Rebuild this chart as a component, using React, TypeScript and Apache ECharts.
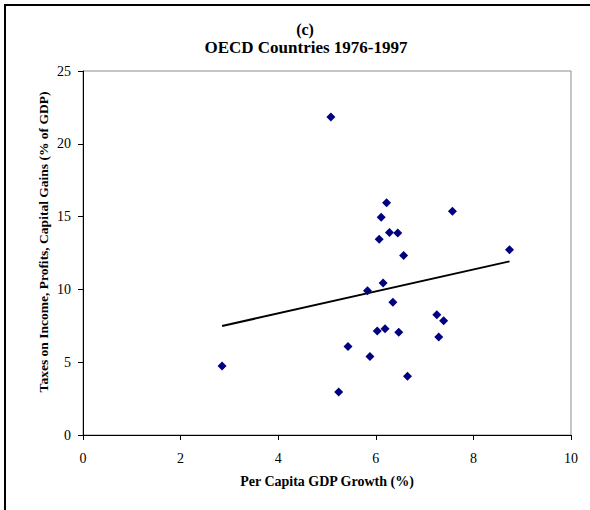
import React, { useEffect, useRef } from "react";
import * as echarts from "echarts";

const growth: number[] = [
  5.08, 6.22, 7.57, 6.11, 6.28, 6.45, 6.07, 8.74, 6.57, 6.15, 5.83, 6.35,
  7.25, 7.39, 6.03, 6.19, 6.47, 7.29, 5.43, 5.88, 6.65, 5.24, 2.85,
];
const taxes: number[] = [
  21.84, 15.95, 15.36, 14.95, 13.9, 13.87, 13.44, 12.73, 12.32, 10.44, 9.91,
  9.11, 8.26, 7.85, 7.14, 7.3, 7.05, 6.73, 6.07, 5.4, 4.03, 2.95, 4.74,
];
const xTicks = { min: 0, max: 10, interval: 2 };
const yTicks = { min: 0, max: 25, interval: 5 };
const titleLines = ["(c)", "OECD Countries 1976-1997"];
const xTitle = "Per Capita GDP Growth (%)";
const yTitle = "Taxes on Income, Profits, Capital Gains (% of GDP)";

function linearFit(xs: number[], ys: number[]) {
  const n = xs.length;
  const mx = xs.reduce((a, b) => a + b, 0) / n;
  const my = ys.reduce((a, b) => a + b, 0) / n;
  let sxy = 0;
  let sxx = 0;
  for (let i = 0; i < n; i++) {
    sxy += (xs[i] - mx) * (ys[i] - my);
    sxx += (xs[i] - mx) * (xs[i] - mx);
  }
  const slope = sxy / sxx;
  return { slope, intercept: my - slope * mx };
}

const SERIF = "'Liberation Serif', 'Times New Roman', serif";

export default function App() {
  const ref = useRef<HTMLDivElement>(null);
  useEffect(() => {
    if (!ref.current) return;
    const chart = echarts.init(ref.current, undefined, { renderer: "svg" });
    const fit = linearFit(growth, taxes);
    const x0 = Math.min(...growth);
    const x1 = Math.max(...growth);
    const trend = [
      [x0, fit.intercept + fit.slope * x0],
      [x1, fit.intercept + fit.slope * x1],
    ];
    const axisLabel = { color: "#000", fontFamily: SERIF, fontSize: 14 };
    chart.setOption({
      animation: false,
      backgroundColor: "#fff",
      grid: {
        left: 83,
        right: 19,
        top: 71,
        bottom: 75,
        show: true,
        borderColor: "#8c8c8c",
        borderWidth: 1,
        backgroundColor: "transparent",
      },
      xAxis: {
        type: "value",
        ...xTicks,
        axisLine: { show: true, onZero: false, lineStyle: { color: "#000", width: 1 } },
        axisTick: { show: true, inside: false, length: 5, lineStyle: { color: "#000" } },
        splitLine: { show: false },
        axisLabel: { ...axisLabel, margin: 16 },
      },
      yAxis: {
        type: "value",
        ...yTicks,
        axisLine: { show: true, onZero: false, lineStyle: { color: "#000", width: 1 } },
        axisTick: { show: true, inside: false, length: 5, lineStyle: { color: "#000" } },
        splitLine: { show: false },
        axisLabel: { ...axisLabel, margin: 12 },
      },
      series: [
        {
          type: "line",
          data: trend,
          symbol: "none",
          lineStyle: { color: "#000", width: 2 },
          silent: true,
          z: 1,
        },
        {
          type: "scatter",
          data: growth.map((g, i) => [g, taxes[i]]),
          symbol: "diamond",
          symbolSize: 9,
          itemStyle: { color: "#000080", opacity: 1 },
          z: 2,
        },
      ],
      graphic: [
        {
          type: "rect",
          shape: { x: 5, y: 5, width: 700, height: 700 },
          style: { fill: "none", stroke: "#000", lineWidth: 2 },
          silent: true,
        },
        {
          type: "text",
          x: 305,
          y: 29,
          style: {
            text: titleLines[0],
            font: `bold 16px ${SERIF}`,
            fill: "#000",
            textAlign: "center",
            textVerticalAlign: "middle",
          },
        },
        {
          type: "text",
          x: 306,
          y: 47,
          style: {
            text: titleLines[1],
            font: `bold 17px ${SERIF}`,
            fill: "#000",
            textAlign: "center",
            textVerticalAlign: "middle",
          },
        },
        {
          type: "text",
          x: 327,
          y: 481,
          style: {
            text: xTitle,
            font: `bold 14px ${SERIF}`,
            fill: "#000",
            textAlign: "center",
            textVerticalAlign: "middle",
          },
        },
        {
          type: "text",
          x: 43,
          y: 242,
          rotation: Math.PI / 2,
          style: {
            text: yTitle,
            font: `bold 13.5px ${SERIF}`,
            fill: "#000",
            textAlign: "center",
            textVerticalAlign: "middle",
          },
        },
      ],
    });
    return () => chart.dispose();
  }, []);
  return (
    <div
      ref={ref}
      style={{ position: "fixed", left: 0, top: 0, width: 590, height: 510 }}
    />
  );
}
